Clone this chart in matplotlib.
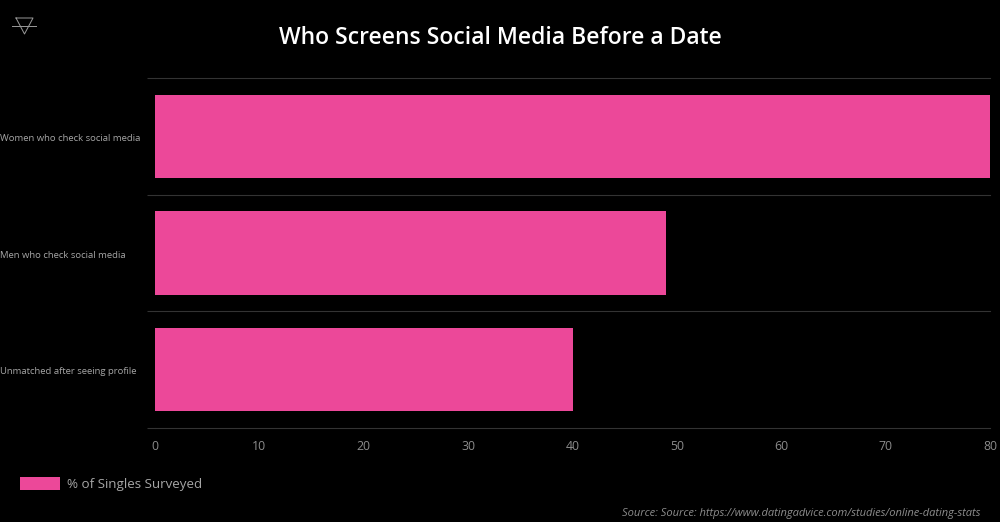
import numpy as np
import matplotlib
matplotlib.use("Agg")
import matplotlib.pyplot as plt
from matplotlib.lines import Line2D
from matplotlib.transforms import ScaledTranslation

categories = ["Women who check social media", "Men who check social media", "Unmatched after seeing profile"]
values = [80, 49, 40]
xticks = [0, 10, 20, 30, 40, 50, 60, 70, 80]

title = "Who Screens Social Media Before a Date"
series_name = "% of Singles Surveyed"
source = "Source: Source: https://www.datingadvice.com/studies/online-dating-stats"

PINK = "#ec4899"
W, H = 1000, 522

plt.rcParams["font.family"] = ["Open Sans", "DejaVu Sans"]

fig = plt.figure(figsize=(W / 100, H / 100), dpi=100, facecolor="black")
ax = fig.add_axes([155 / W, 1 - 428 / H, (990 - 155) / W, (428 - 78) / H], facecolor="black")

y = np.arange(len(categories))
ax.barh(y, values, height=0.715, color=PINK, label=series_name)
ax.set_xlim(0, 80)
ax.set_ylim(len(categories) - 0.5, -0.5)

for s in ax.spines.values():
    s.set_visible(False)

ax.set_xticks(xticks)
ax.tick_params(axis="x", length=0, pad=9, labelsize=8.8, labelcolor="#8c8c8c")
ax.set_yticks(y)
ax.set_yticklabels(categories, ha="left")
ax.tick_params(axis="y", which="major", length=0, pad=111.6, labelsize=6.8, labelcolor="#a6a6a6")
# labels sit about a pixel lower in the original
for lab in ax.get_yticklabels():
    lab.set_transform(lab.get_transform() + ScaledTranslation(0, -1 / 100, fig.dpi_scale_trans))

# band separators, they stick out a bit left of zero like ticks
ax.set_yticks(np.arange(len(categories) + 1) - 0.5, minor=True)
ax.tick_params(axis="y", which="minor", length=5.8, width=0.8, color="#333333")
ax.grid(axis="y", which="minor", color="#333333", linewidth=0.8, clip_on=False)
ax.set_axisbelow(True)
for t in ax.yaxis.get_minorticklines():
    t.set_clip_on(False)

fig.text(0.5, 1 - 37.5 / H, title, color="white", fontsize=16.5, fontweight="semibold", ha="center", va="center")
fig.text(980 / W, 1 - 513.5 / H, source, color="#8c8c8c", fontsize=8.0, style="italic", ha="right", va="center")

fig.legend(loc="lower left", bbox_to_anchor=(20 / W, 1 - 491 / H), borderaxespad=0, borderpad=0,
           frameon=False, handlelength=3, handleheight=1.1, handletextpad=0.52,
           fontsize=9.6, labelcolor="#a6a6a6")

# logo top left
logo = "#9a9a9a"
fig.add_artist(Line2D([16 / W, 33 / W, 24.5 / W, 16 / W], [1 - 18 / H, 1 - 18 / H, 1 - 34 / H, 1 - 18 / H], color=logo, lw=0.7))
fig.add_artist(Line2D([12 / W, 36 / W], [1 - 26 / H, 1 - 26 / H], color=logo, lw=0.7))

fig.savefig("out.png", dpi=100, facecolor="black")
